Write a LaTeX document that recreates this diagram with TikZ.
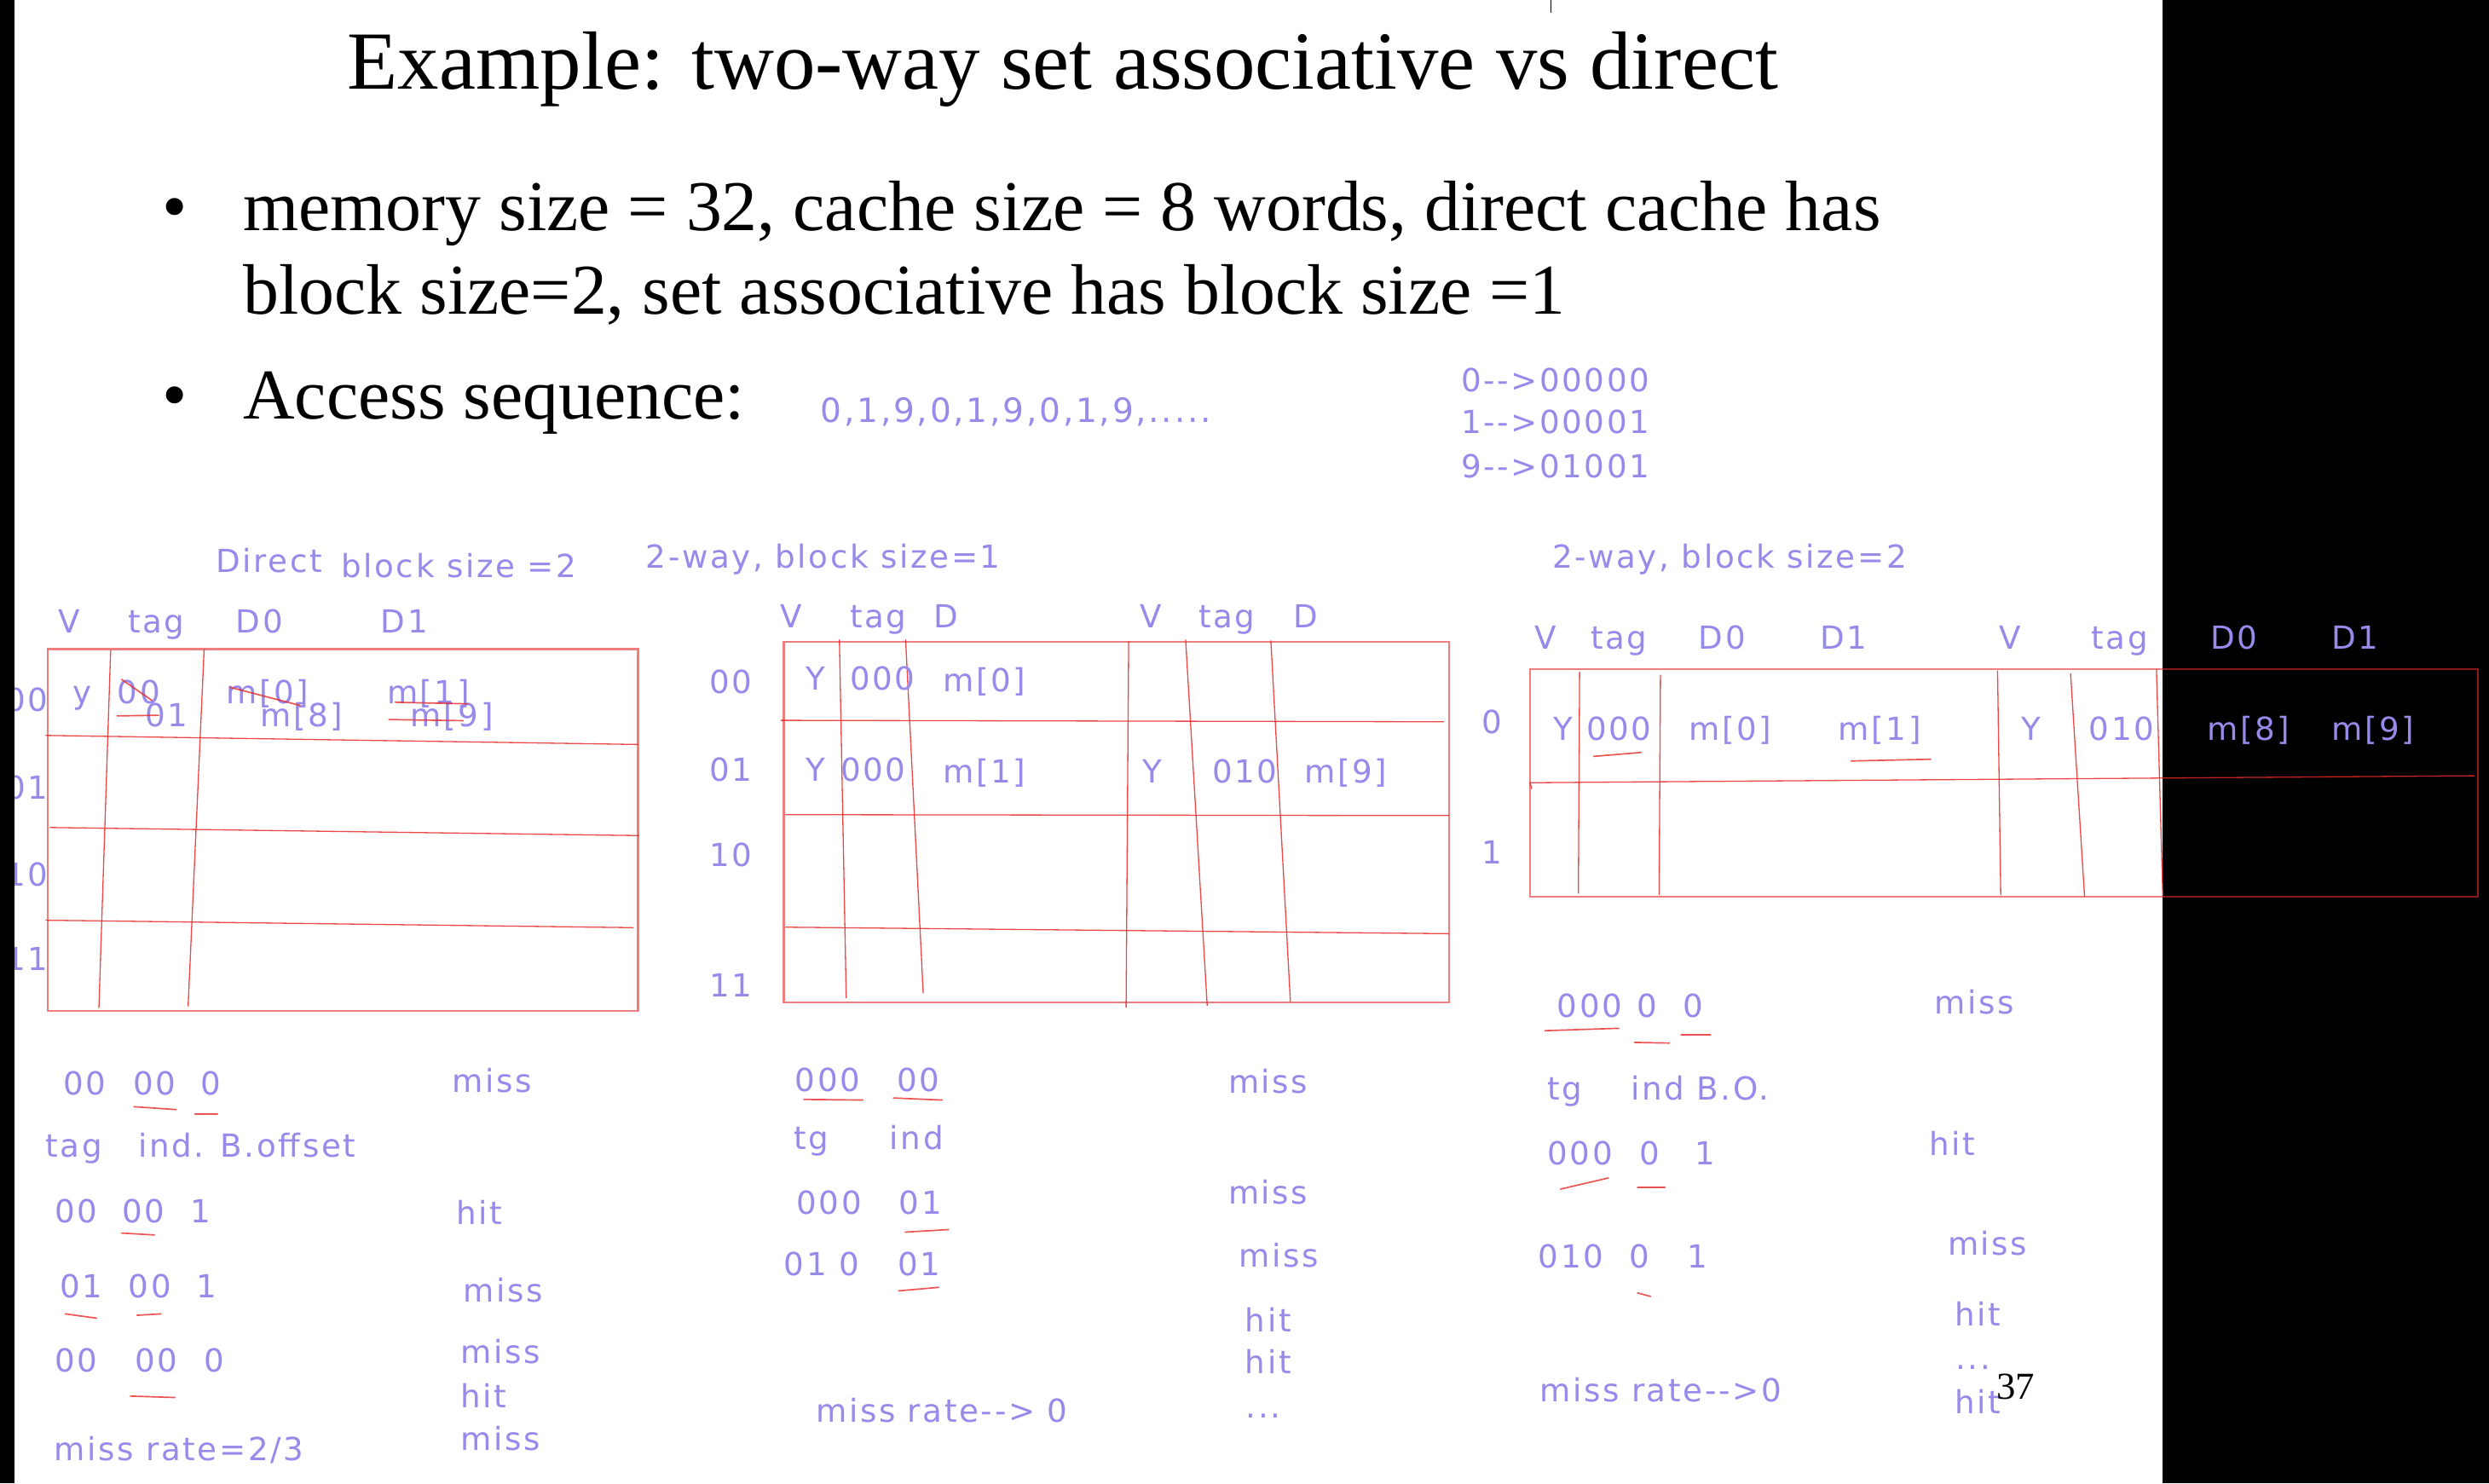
\documentclass[tikz,border=0pt]{standalone}
\usepackage{fontspec}
\setmainfont{Liberation Serif}
\newfontfamily\handfam[LetterSpace=7]{DejaVu Sans}
\definecolor{lav}{RGB}{150,138,235}
\definecolor{penred}{RGB}{232,40,40}
\tikzset{
  hw/.style={font=\handfam\fontsize{20}{24}\selectfont, text=lav, inner sep=0pt, outer sep=0pt, text height=14.6pt, text depth=0pt},
  hwl/.style={hw, anchor=west},
  frame/.style={draw=penred, draw opacity=0.6, line width=1.3pt},
  tline/.style={draw=penred, draw opacity=0.85, line width=0.7pt},
  uline/.style={draw=penred, draw opacity=0.8, line width=0.9pt, line cap=round},
  big/.style={font=\fontsize{45}{54}\selectfont, inner sep=0pt, anchor=base west},
}
\begin{document}
\begin{tikzpicture}[x=1pt,y=-1pt]
\useasboundingbox (0,0) rectangle (1568,934.36);
\fill[white] (0,0) rectangle (1568,934.36);
\fill[black] (1362.5,0) rectangle (1568,934.36);
\draw[black, line width=0.5pt] (977,0) -- (977,8);

% ---------- top text ----------
\node[font=\fontsize{52}{60}\selectfont, inner sep=0pt, anchor=base] (title) at (669.5,56) {Example: two-way set associative vs direct};
\node[big] (b1) at (102,145) {•};
\node[big] (l1) at (153,145) {memory size = 32, cache size = 8 words, direct cache has};
\node[big] (l2) at (153,198) {block size=2, set associative has block size =1};
\node[big] (b2) at (102,264) {•};
\node[big] (l3) at (153,264) {Access sequence:};
\node[hwl, font=\handfam\fontsize{21}{25}\selectfont, text height=15.3pt] (seq) at (517,258.6) {0,1,9,0,1,9,0,1,9,.....};
\node[hwl] (map0) at (920.5,239.4) {0-{}-{}>00000};
\node[hwl] (map1) at (920.5,265.7) {1-{}-{}>00001};
\node[hwl] (map9) at (920.5,293.5) {9-{}-{}>01001};

% ---------- section 1: direct ----------
\draw[frame] (30,409) rectangle (402,637);
\draw[tline] (28.6,463.3) -- (402,469);
\draw[tline] (31.4,521.3) -- (402.6,526.4);
\draw[tline] (28.6,579.7) -- (399,584.4);
\draw[tline] (69.7,409.6) -- (62.3,635);
\draw[tline] (128.6,409) -- (118.5,634);

\node[hwl] (d-title) at (136,353.4) {Direct};
\node[hwl] (d-bs) at (215,356.5) {block size =2};
\node[hw] (d-hv) at (43.7,391.6) {V};
\node[hw] (d-htag) at (98.5,391.6) {tag};
\node[hw] (d-hd0) at (163.4,391.6) {D0};
\node[hw] (d-hd1) at (254.7,391.6) {D1};
\node[hw] (d-r0) at (17,441) {00};
\node[hw] (d-r1) at (17,496) {01};
\node[hw] (d-r2) at (17,551) {10};
\node[hw] (d-r3) at (17,604) {11};
\node[hw] (d-y) at (52,436) {y};
\node[hw] (d-t00) at (87.5,436) {00};
\node[hw] (d-t01) at (105,450.6) {01};
\node[hw] (d-m0) at (168.4,436) {m[0]};
\node[hw] (d-m8) at (190,450.6) {m[8]};
\node[hw] (d-m1) at (269.8,436) {m[1]};
\node[hw] (d-m9) at (284.8,450.6) {m[9]};
\draw[uline] (76.6,428) -- (95.8,441.3);
\draw[uline] (73.8,451) -- (99.9,450.6);
\draw[uline] (145,433) -- (189,444.4);
\draw[uline] (249,442.4) -- (294.4,443.4);
\draw[uline] (245,453.3) -- (291.7,454);

\node[hw] (d-a1) at (53.4,682.4) {00};
\node[hw] (d-a2) at (97.3,682.4) {00};
\node[hw] (d-a3) at (132.9,682.4) {0};
\node[hwl] (d-ar) at (285,681) {miss};
\node[hwl] (d-ltag) at (28.8,721.4) {tag};
\node[hwl] (d-lind) at (87.1,721.4) {ind. B.offset};
\node[hw] (d-b1) at (48,763) {00};
\node[hw] (d-b2) at (90.4,763) {00};
\node[hw] (d-b3) at (126.6,763) {1};
\node[hwl] (d-br) at (287.7,763.9) {hit};
\node[hw] (d-c1) at (51.2,810) {01};
\node[hw] (d-c2) at (94.5,810) {00};
\node[hw] (d-c3) at (130,810) {1};
\node[hwl] (d-cr) at (291.8,813) {miss};
\node[hw] (d-e1) at (48,857) {00};
\node[hw] (d-e2) at (98.6,857) {00};
\node[hw] (d-e3) at (134.8,857) {0};
\node[hwl] (d-er1) at (290.4,851.8) {miss};
\node[hwl] (d-er2) at (290.4,879.6) {hit};
\node[hwl] (d-er3) at (290.4,906.4) {miss};
\node[hwl] (d-rate) at (34.2,912.9) {miss rate=2/3};
\draw[uline] (84.4,697.2) -- (111,699);
\draw[uline] (122.8,701.9) -- (137,701.9);
\draw[uline] (76.7,776.8) -- (97.3,778);
\draw[uline] (41.1,827.7) -- (60.8,830.4);
\draw[uline] (86.3,828.6) -- (101.4,827.7);
\draw[uline] (82.2,879.5) -- (110.1,880.4);

% ---------- section 2: 2-way, block size 1 ----------
\draw[frame] (493.7,404.3) rectangle (912.8,631.4);
\draw[tline] (492,453.8) -- (909.6,454.7);
\draw[tline] (494.7,513.2) -- (912.8,513.8);
\draw[tline] (494.7,584.1) -- (912.8,588.2);
\draw[tline] (528.8,402.9) -- (533.1,628.9);
\draw[tline] (570.5,402.9) -- (581.6,625.8);
\draw[tline] (711,403.9) -- (709.4,634.7);
\draw[tline] (746.9,402.9) -- (760.5,633.6);
\draw[tline] (800.6,403.5) -- (812.9,631);

\node[hwl] (s-title) at (407,350.4) {2-way, block size=1};
\node[hw] (s-hv1) at (498.6,388.4) {V};
\node[hw] (s-htag1) at (553.3,388.4) {tag};
\node[hw] (s-hd1) at (596.2,388.4) {D};
\node[hw] (s-hv2) at (725,388.4) {V};
\node[hw] (s-htag2) at (772.9,388.4) {tag};
\node[hw] (s-hd2) at (822.3,388.4) {D};
\node[hw] (s-r0) at (460.5,429.5) {00};
\node[hw] (s-r1) at (460.5,485) {01};
\node[hw] (s-r2) at (460.5,538.4) {10};
\node[hw] (s-r3) at (460.5,620.6) {11};
\node[hw] (s-y0) at (513.6,427.4) {Y};
\node[hw] (s-t0) at (555.9,427.4) {000};
\node[hw] (s-m0) at (620,428.6) {m[0]};
\node[hw] (s-y1) at (513.6,485) {Y};
\node[hw] (s-t1) at (550,485) {000};
\node[hw] (s-m1) at (620,486) {m[1]};
\node[hw] (s-y2) at (725.7,486) {Y};
\node[hw] (s-t2) at (784.3,486) {010};
\node[hw] (s-m9) at (847.7,486) {m[9]};

\node[hw] (s-a1) at (521.4,680.1) {000};
\node[hw] (s-a2) at (578.4,680.1) {00};
\node[hwl] (s-ar) at (773.8,681.6) {miss};
\node[hwl] (s-ltg) at (500.3,716.7) {tg};
\node[hwl] (s-lind) at (560.6,716.7) {ind};
\node[hw] (s-b1) at (522.3,757.8) {000};
\node[hw] (s-b2) at (579.8,757.8) {01};
\node[hwl] (s-br) at (773.8,751) {miss};
\node[hwl] (s-c1) at (494,796.3) {01 0};
\node[hw] (s-c2) at (579,796.3) {01};
\node[hwl] (s-cr) at (780.6,790.8) {miss};
\node[hwl] (s-h1) at (784.5,831.5) {hit};
\node[hwl] (s-h2) at (784.5,858.3) {hit};
\node[hwl] (s-dots) at (785,886) {...};
\node[hwl] (s-rate) at (514,888.8) {miss rate-{}-{}> 0};
\draw[uline] (506.4,692.6) -- (543.6,693);
\draw[uline] (562.8,691.7) -- (593.5,693);
\draw[uline] (570.2,776.2) -- (597.6,774.6);
\draw[uline] (566.1,813.2) -- (591.3,811);

% ---------- section 3: 2-way, block size 2 ----------
\draw[frame] (963.8,421.6) rectangle (1560.9,564.8);
\draw[tline] (963.8,493.1) -- (1558.9,488.7);
\draw[tline] (963.8,493) -- (965,497);
\draw[tline] (995.1,423.3) -- (994.3,563);
\draw[tline] (1046,425.1) -- (1045.2,563.9);
\draw[tline] (1258.4,422.4) -- (1260.4,563.9);
\draw[tline] (1304.4,424.2) -- (1313.2,564.8);
\draw[tline] (1358.5,421.6) -- (1362.5,564.8);

\node[hwl] (t-title) at (977.9,350.7) {2-way, block size=2};
\node[hw] (t-hv1) at (973.9,401.7) {V};
\node[hw] (t-htag1) at (1020,401.7) {tag};
\node[hw] (t-hd01) at (1084.9,401.7) {D0};
\node[hw] (t-hd11) at (1161.4,401.7) {D1};
\node[hw] (t-hv2) at (1266.4,401.7) {V};
\node[hw] (t-htag2) at (1335.3,401.7) {tag};
\node[hw] (t-hd02) at (1407.4,401.7) {D0};
\node[hw] (t-hd12) at (1483.6,401.7) {D1};
\node[hw] (t-r0) at (940,455) {0};
\node[hw] (t-r1) at (940,537) {1};
\node[hw] (t-y1) at (984.7,459) {Y};
\node[hw] (t-t1) at (1020,459) {000};
\node[hw] (t-m0) at (1090.1,459) {m[0]};
\node[hw] (t-m1) at (1184.2,459) {m[1]};
\node[hw] (t-y2) at (1279.6,459) {Y};
\node[hw] (t-t2) at (1336.5,459) {010};
\node[hw] (t-m8) at (1416.6,459) {m[8]};
\node[hw] (t-m9) at (1494.8,459) {m[9]};
\draw[uline] (1003.9,476.5) -- (1034,474);
\draw[uline] (1166.2,479.4) -- (1216.3,478.3);

\node[hw] (t-a1) at (1001.5,633.5) {000};
\node[hw] (t-a2) at (1037.6,633.5) {0};
\node[hw] (t-a3) at (1066.4,633.5) {0};
\node[hwl] (t-ar) at (1218.7,631.4) {miss};
\node[hwl] (t-ltg) at (974.9,685.5) {tg};
\node[hwl] (t-lind) at (1027.5,685.5) {ind B.O.};
\node[hw] (t-b1) at (995.4,726.3) {000};
\node[hw] (t-b2) at (1039,726.3) {0};
\node[hw] (t-b3) at (1074,726.3) {1};
\node[hwl] (t-br) at (1215.2,720.6) {hit};
\node[hw] (t-c1) at (989.7,791.7) {010};
\node[hw] (t-c2) at (1033,791.7) {0};
\node[hw] (t-c3) at (1069.1,791.7) {1};
\node[hwl] (t-cr) at (1227,783.2) {miss};
\node[hwl] (t-h1) at (1231.6,827.8) {hit};
\node[hwl] (t-dots) at (1232,855.5) {...};
\node[hwl] (t-h2) at (1231.6,883.1) {hit};
\node[hwl] (t-rate) at (970,875.7) {miss rate-{}-{}>0};
\draw[uline] (973.2,649.3) -- (1019.8,647.8);
\draw[uline] (1029.7,656.7) -- (1051.6,657.1);
\draw[uline] (1059,652) -- (1077.6,652);
\draw[uline] (983.1,749.1) -- (1013.2,742.1);
\draw[uline] (1031.6,748) -- (1048.9,748);
\draw[uline] (1031.6,814.5) -- (1039.8,816.7);

\node[font=\fontsize{24}{28}\selectfont, anchor=base west, inner sep=0pt] (page) at (1257.6,881.4) {37};

% left black strip (covers part of the row labels)
\fill[black] (0,0) rectangle (9,934.36);
\end{tikzpicture}
\end{document}
